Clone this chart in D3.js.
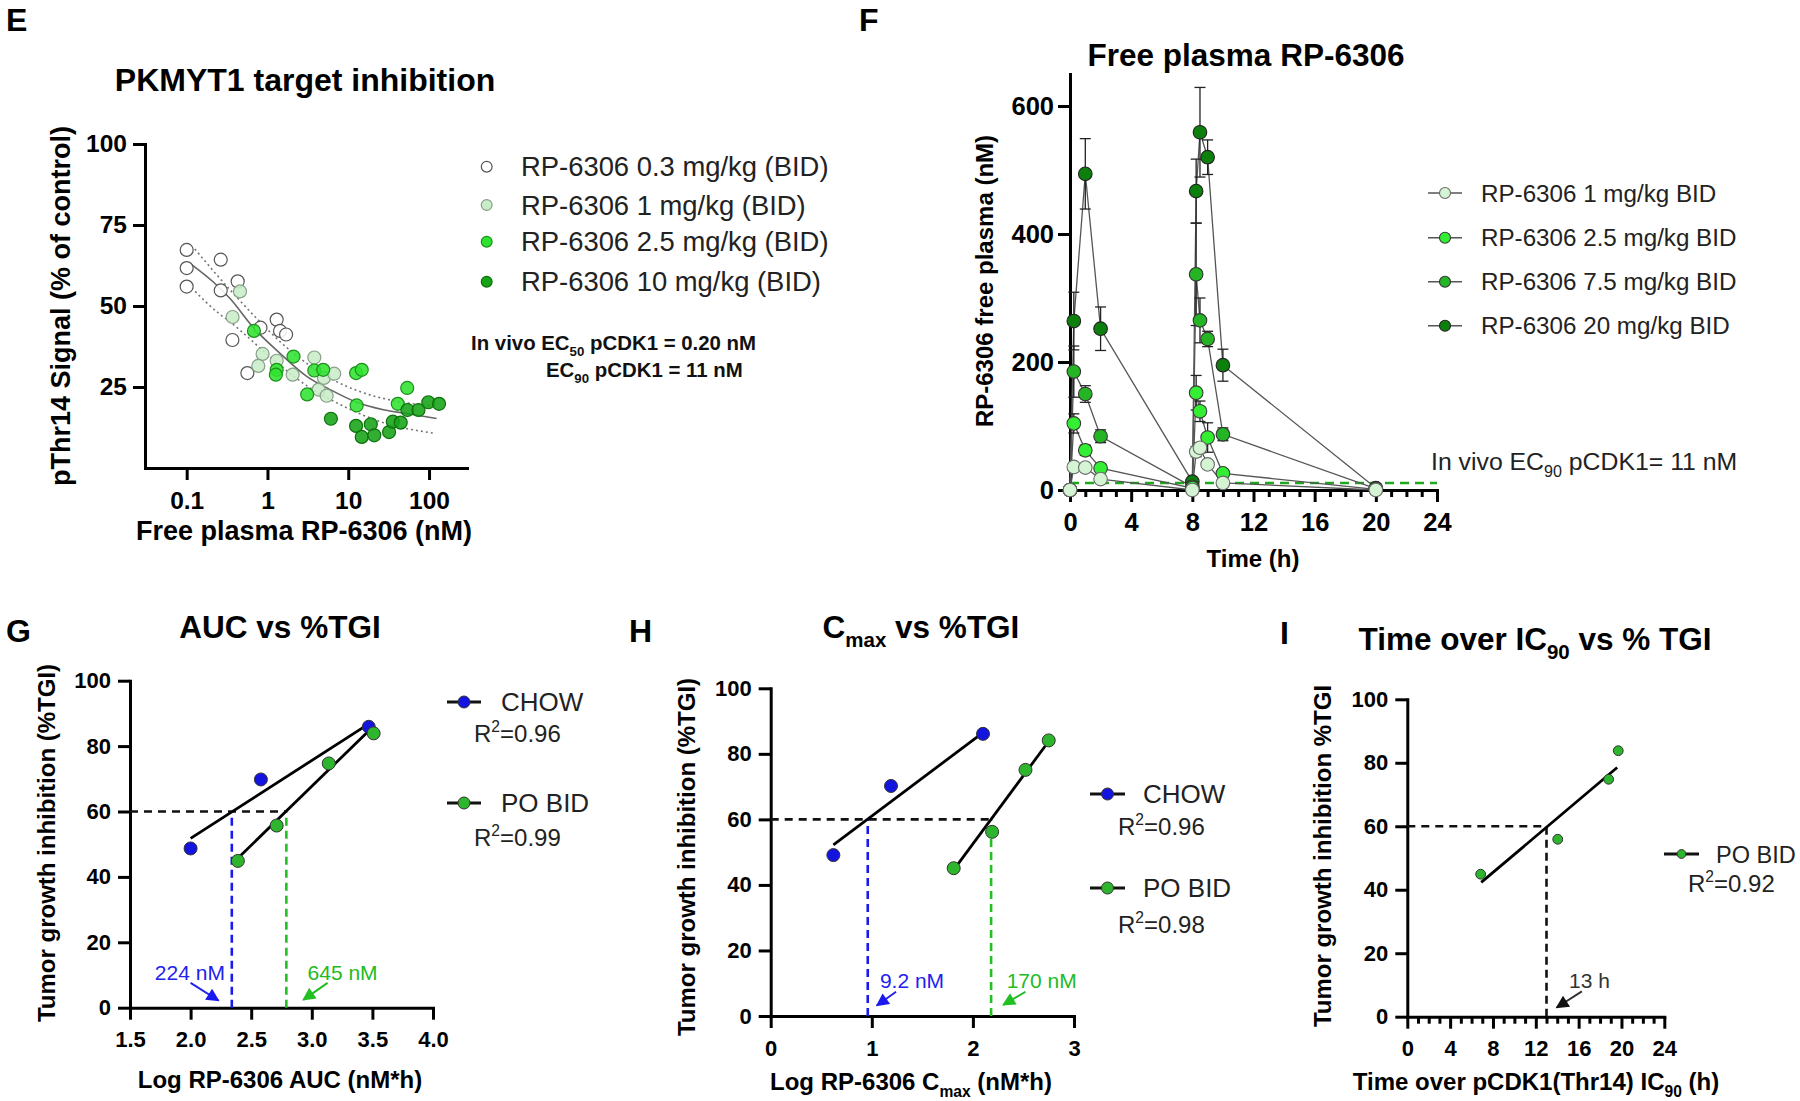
<!DOCTYPE html>
<html><head><meta charset="utf-8">
<script src="https://cdn.jsdelivr.net/npm/d3@7"></script>
<style>body{margin:0;background:#fff}svg{display:block}</style>
</head><body>
<svg id="c" width="1800" height="1101"></svg>
<script>
// ================= DATA =================
// Panel E – PKMYT1 target inhibition (free plasma nM vs pThr14 %)
const eNames = ["RP-6306 0.3 mg/kg (BID)","RP-6306 1 mg/kg (BID)","RP-6306 2.5 mg/kg (BID)","RP-6306 10 mg/kg (BID)"];
const eDose03X = [0.1,0.1,0.1,0.264,0.264,0.428,0.368,0.564,0.82,1.30,1.43,1.70];
const eDose03Y = [67.3,61.7,56,64.3,54.8,57.6,39.5,29.3,43.3,45.8,42.3,41.2];
const eDose1X  = [0.457,0.37,0.87,0.77,1.30,2.05,3.8,4.3,5.4,5.0,6.7];
const eDose1Y  = [54.5,46.6,35.2,31.5,33.1,28.8,34.1,24.2,22.3,27.8,29.1];
const eDose25X = [0.68,1.30,1.27,2.1,3.1,3.8,4.9,12.5,14.7,12.7,41,53.7];
const eDose25Y = [42.3,30.3,28.8,34.4,22.7,30.1,30.3,29.3,30.3,19.3,19.8,24.7];
const eDose10X = [6.1,12.5,14.7,19,21,32,35.6,44.6,54,74,98,133];
const eDose10Y = [15.2,13,9.6,13.5,10.1,11.1,14.3,14,17.9,17.9,20.3,19.8];
const eFitX   = [0.115,0.214,0.344,0.683,1.43,3.06,5.96,12.7,27.2,53,124];
const eFitY   = [62.8,57.4,52.3,43.1,35.4,28.3,24.2,20.3,18.0,16.8,15.3];
const eUpperX = [0.126,0.25,0.74,1.43,3.06,6.5,15.4,40,121];
const eUpperY = [67.6,58.9,46.1,39,32.3,27.2,23.2,20.6,19.1];
const eLowerX = [0.115,0.25,0.344,1.07,3.06,8.7,27.2,119];
const eLowerY = [55.6,47.7,45.1,34.4,25.4,19.1,14,10.7];
const eXTicks = [0.1,1,10,100];
const eYTicks = [25,50,75,100];

// Panel F – free plasma PK
const fNames = ["RP-6306 1 mg/kg BID","RP-6306 2.5 mg/kg BID","RP-6306 7.5 mg/kg BID","RP-6306 20 mg/kg BID"];
const fTime   = [0,0.25,1,2,8,8.25,8.5,9,10,20];
const fDose1   = [0,36,35,17,0,60,66,40,11,0];
const fDose1E  = [0,3,3,2,0,8,8,6,2,0];
const fDose25  = [0,104,62,34,3,152,123,82,26,1];
const fDose25E = [0,15,8,5,1,27,16,23,5,0];
const fDose75  = [0,185,150,84,5,337,265,236,87,2];
const fDose75E = [0,40,13,10,1,80,35,12,10,0];
const fDose20  = [0,264,494,252,13,467,559,520,195,3];
const fDose20E = [0,45,55,34,3,50,70,27,25,1];
const fEC90 = 11;
const fXTicks = [0,4,8,12,16,20,24];
const fYTicks = [0,200,400,600];

// Panel G – AUC vs %TGI
const gChowX = [2.0,2.58,3.47], gChowY = [48.7,69.8,85.9];
const gPoX = [2.39,2.71,3.14,3.51], gPoY = [44.9,55.7,74.7,83.9];
const gChowFitX = [2.0,3.47], gChowFitY = [51.8,86.8];
const gPoFitX = [2.39,3.49], gPoFitY = [45.7,85.4];
const gCuts = [2.34,2.79];
const gXTicks = [1.5,2.0,2.5,3.0,3.5,4.0];
const gR2 = ["0.96","0.99"];
const gLabels = ["224 nM","645 nM"];

// Panel H – Cmax vs %TGI
const hChowX = [0.62,1.19,2.10], hChowY = [49.1,70.2,86.1];
const hPoX = [1.81,2.19,2.52,2.75], hPoY = [45.1,56.2,75.1,84.1];
const hChowFitX = [0.62,2.07], hChowFitY = [52.2,85.8];
const hPoFitX = [1.81,2.73], hPoFitY = [44.6,83.0];
const hCuts = [0.96,2.18];
const hXTicks = [0,1,2,3];
const hR2 = ["0.96","0.98"];
const hLabels = ["9.2 nM","170  nM"];

// Panel I – time over IC90 vs %TGI
const iPoX = [6.85,14.05,18.8,19.7], iPoY = [44.9,55.9,74.8,83.8];
const iPoFitX = [6.9,19.6], iPoFitY = [42.3,78.5];
const iCut = 13;
const iXTicks = [0,4,8,12,16,20,24];
const iR2 = "0.92";

const tgiYTicks = [0,20,40,60,80,100];
const tgiTarget = 60;

// ================= DRAWING =================
const FONT = '"Liberation Sans", Arial, Helvetica, sans-serif';
const TITLE = 31.5;
const svg = d3.select("#c");
const defs = svg.append("defs");
function arrowMarker(id, color){
  defs.append("marker").attr("id",id).attr("viewBox","0 0 10 10")
    .attr("refX",9).attr("refY",5).attr("markerWidth",15).attr("markerHeight",13)
    .attr("markerUnits","userSpaceOnUse").attr("orient","auto")
    .append("path").attr("d","M0,0L10,5L0,10z").attr("fill",color);
}
arrowMarker("arB","#1a1aee"); arrowMarker("arG","#22c022"); arrowMarker("arK","#111");

function rich(parent, x, y, parts, o){
  const fs = o.size;
  const t = parent.append("text").attr("x",x).attr("y",y).attr("font-size",fs)
    .attr("font-family",FONT).attr("font-weight",o.bold?"bold":"normal")
    .attr("fill",o.fill||"#000").attr("text-anchor",o.anchor||"start");
  if (o.rotate) t.attr("transform",`rotate(${o.rotate},${x},${y})`);
  let shift = 0;
  parts.forEach(p=>{
    if (typeof p === "string") p = {t:p};
    const target = p.sub ? fs*0.28 : (p.sup ? -fs*0.42 : 0);
    const ts = t.append("tspan").text(p.t).attr("dy", target - shift);
    if (p.sub || p.sup) ts.attr("font-size", fs*0.65);
    shift = target;
  });
  return t;
}
function styleAxis(g, fs){
  g.select(".domain").attr("stroke","#000").attr("stroke-width",3).attr("stroke-linecap","square");
  g.selectAll(".tick line").attr("stroke","#000").attr("stroke-width",3);
  g.selectAll(".tick text").attr("font-family",FONT).attr("font-weight","bold")
    .attr("font-size",fs).attr("fill","#000");
}
const zip = (xs, ys) => xs.map((x,i)=>[x, ys[i]]);

// ---------- Panel E ----------
{
  const g = svg.append("g");
  const x = d3.scaleLog().domain([Math.pow(10,-1.516), Math.pow(10,2.47)]).range([145,467]);
  const y = d3.scaleLinear().domain([0,100]).range([468,144]);
  const ax = g.append("g").attr("transform","translate(0,468)")
    .call(d3.axisBottom(x).tickValues(eXTicks).tickFormat(d=>String(d)).tickSize(12).tickPadding(12).tickSizeOuter(0));
  styleAxis(ax, 24.5);
  const ay = g.append("g").attr("transform","translate(145,0)")
    .call(d3.axisLeft(y).tickValues(eYTicks).tickSize(12).tickPadding(6).tickSizeOuter(0));
  styleAxis(ay, 24.5);
  // fit + CI
  const ln = d3.line().x(d=>x(d[0])).y(d=>y(d[1])).curve(d3.curveMonotoneX);
  g.append("path").attr("d",ln(zip(eUpperX,eUpperY))).attr("fill","none").attr("stroke","#777").attr("stroke-width",1.6).attr("stroke-dasharray","2,3");
  g.append("path").attr("d",ln(zip(eLowerX,eLowerY))).attr("fill","none").attr("stroke","#777").attr("stroke-width",1.6).attr("stroke-dasharray","2,3");
  g.append("path").attr("d",ln(zip(eFitX,eFitY))).attr("fill","none").attr("stroke","#666").attr("stroke-width",1.6);
  const eFill = ["#ffffff","#c8edc8","#2fe22f","#16a316"];
  const eStroke = ["#555","#889f88","#1c8f1c","#0b6f0b"];
  const sets = [zip(eDose03X,eDose03Y), zip(eDose1X,eDose1Y), zip(eDose25X,eDose25Y), zip(eDose10X,eDose10Y)];
  sets.forEach((s,k)=>{
    g.append("g").selectAll("circle").data(s).join("circle")
      .attr("cx",d=>x(d[0])).attr("cy",d=>y(d[1])).attr("r",6.5)
      .attr("fill",eFill[k]).attr("fill-opacity",0.88).attr("stroke",eStroke[k]).attr("stroke-width",1.2);
  });
  // legend
  const rows = [166.7,205,241.7,281.7];
  eNames.forEach((n,k)=>{
    g.append("circle").attr("cx",486.7).attr("cy",rows[k]).attr("r",5.4)
      .attr("fill",eFill[k]).attr("stroke",eStroke[k]).attr("stroke-width",1.2);
    g.append("text").attr("x",521).attr("y",rows[k]+9.5).text(n).attr("font-family",FONT)
      .attr("font-size",27.4).attr("fill","#222");
  });
  rich(g, 471, 350, ["In vivo EC",{t:"50",sub:true}," pCDK1 = 0.20 nM"], {size:20.4,bold:true,fill:"#111"});
  rich(g, 546, 377, ["EC",{t:"90",sub:true}," pCDK1 = 11 nM"], {size:20.4,bold:true,fill:"#111"});
  // titles
  g.append("text").attr("x",6).attr("y",31).text("E").attr("font-family",FONT).attr("font-weight","bold").attr("font-size",32);
  g.append("text").attr("x",305).attr("y",91).text("PKMYT1 target inhibition").attr("font-family",FONT)
    .attr("font-weight","bold").attr("font-size",32).attr("text-anchor","middle");
  rich(g, 69.5, 306, ["pThr14 Signal (% of control)"], {size:27,bold:true,anchor:"middle",rotate:-90});
  rich(g, 304, 540, ["Free plasma RP-6306 (nM)"], {size:27,bold:true,anchor:"middle"});
}

// ---------- Panel F ----------
{
  const g = svg.append("g");
  const x = d3.scaleLinear().domain([0,24]).range([1070,1437]);
  const y = d3.scaleLinear().domain([0,650]).range([490,74]);
  const minor = d3.range(0,25).filter(v=>v%4!==0);
  const axm = g.append("g").attr("transform","translate(0,490)")
    .call(d3.axisBottom(x).tickValues(minor).tickFormat("").tickSize(7).tickSizeOuter(0));
  styleAxis(axm, 10); axm.select(".domain").remove();
  const ax = g.append("g").attr("transform","translate(0,490)")
    .call(d3.axisBottom(x).tickValues(fXTicks).tickSize(12).tickPadding(11).tickSizeOuter(0));
  styleAxis(ax, 25.5);
  const ay = g.append("g").attr("transform","translate(1070,0)")
    .call(d3.axisLeft(y).tickValues(fYTicks).tickSize(12).tickPadding(4).tickSizeOuter(0));
  styleAxis(ay, 25.5);
  // EC90 line
  g.append("line").attr("x1",x(0)).attr("x2",x(24)).attr("y1",y(fEC90)).attr("y2",y(fEC90))
    .attr("stroke","#1fa81f").attr("stroke-width",2.6).attr("stroke-dasharray","9,6");
  const series = [[fDose1,fDose1E],[fDose25,fDose25E],[fDose75,fDose75E],[fDose20,fDose20E]];
  const fFill = ["#d4f4d4","#33ee33","#24b424","#0d7f0d"];
  const fStroke = ["#6a6a6a","#3a3a3a","#333","#222"];
  const ln = d3.line().x(d=>x(d[0])).y(d=>y(d[1]));
  series.forEach(([v])=>{
    g.append("path").attr("d",ln(zip(fTime,v))).attr("fill","none").attr("stroke","#555").attr("stroke-width",1.3);
  });
  series.forEach(([v,e])=>{
    fTime.forEach((t,i)=>{
      if (!e[i]) return;
      const cx = x(t), y1 = y(v[i]+e[i]), y0 = y(Math.max(0,v[i]-e[i]));
      g.append("line").attr("x1",cx).attr("x2",cx).attr("y1",y0).attr("y2",y1).attr("stroke","#222").attr("stroke-width",1.3);
      [y0,y1].forEach(yy=>g.append("line").attr("x1",cx-5.5).attr("x2",cx+5.5).attr("y1",yy).attr("y2",yy).attr("stroke","#222").attr("stroke-width",1.3));
    });
  });
  [3,2,1,0].forEach(k=>{
    g.append("g").selectAll("circle").data(zip(fTime,series[k][0])).join("circle")
      .attr("cx",d=>x(d[0])).attr("cy",d=>y(d[1])).attr("r",6.8)
      .attr("fill",fFill[k]).attr("stroke",fStroke[k]).attr("stroke-width",1.1);
  });
  // legend
  const rows = [193,237.7,281.7,325.7];
  fNames.forEach((n,k)=>{
    g.append("line").attr("x1",1428).attr("x2",1462).attr("y1",rows[k]).attr("y2",rows[k]).attr("stroke","#555").attr("stroke-width",1.5);
    g.append("circle").attr("cx",1445).attr("cy",rows[k]).attr("r",5.5).attr("fill",fFill[k]).attr("stroke",fStroke[k]).attr("stroke-width",1.1);
    g.append("text").attr("x",1481).attr("y",rows[k]+8.5).text(n).attr("font-family",FONT).attr("font-size",24.2).attr("fill","#222");
  });
  rich(g, 1431, 470, ["In vivo EC",{t:"90",sub:true}," pCDK1= 11 nM"], {size:24.8,fill:"#222"});
  g.append("text").attr("x",859).attr("y",31).text("F").attr("font-family",FONT).attr("font-weight","bold").attr("font-size",32);
  g.append("text").attr("x",1246).attr("y",66).text("Free plasma RP-6306").attr("font-family",FONT)
    .attr("font-weight","bold").attr("font-size",TITLE).attr("text-anchor","middle");
  rich(g, 993, 281, ["RP-6306 free plasma (nM)"], {size:24,bold:true,anchor:"middle",rotate:-90});
  rich(g, 1253, 567, ["Time (h)"], {size:24,bold:true,anchor:"middle"});
}

// ---------- TGI panels helper ----------
const blue = "#1414e0", green = "#2db52d";
function tgiPanel(cfg){
  const g = svg.append("g");
  const x = d3.scaleLinear().domain(cfg.xDomain).range(cfg.xRange);
  const y = d3.scaleLinear().domain([0,100]).range(cfg.yRange);
  const y0 = cfg.yRange[0];
  if (cfg.minor){
    const axm = g.append("g").attr("transform",`translate(0,${y0})`)
      .call(d3.axisBottom(x).tickValues(cfg.minor).tickFormat("").tickSize(7).tickSizeOuter(0));
    styleAxis(axm,10); axm.select(".domain").remove();
  }
  const ax = g.append("g").attr("transform",`translate(0,${y0})`)
    .call(d3.axisBottom(x).tickValues(cfg.xTicks).tickFormat(cfg.xFmt).tickSize(12).tickPadding(12).tickSizeOuter(0));
  styleAxis(ax, 22);
  const ay = g.append("g").attr("transform",`translate(${cfg.xRange[0]},0)`)
    .call(d3.axisLeft(y).tickValues(tgiYTicks).tickSize(12).tickPadding(7).tickSizeOuter(0));
  styleAxis(ay, 22);
  // reference dashed lines
  const maxCut = d3.max(cfg.cuts.map(c=>c.x));
  g.append("line").attr("x1",x(cfg.xDomain[0])).attr("x2",x(maxCut)).attr("y1",y(tgiTarget)).attr("y2",y(tgiTarget))
    .attr("stroke","#111").attr("stroke-width",2.6).attr("stroke-dasharray","8,6");
  cfg.cuts.forEach(c=>{
    g.append("line").attr("x1",x(c.x)).attr("x2",x(c.x)).attr("y1",y(0)).attr("y2",y(tgiTarget))
      .attr("stroke",c.color).attr("stroke-width",2.6).attr("stroke-dasharray","8,5");
  });
  // fits
  const ln = d3.line().x(d=>x(d[0])).y(d=>y(d[1]));
  cfg.sets.forEach(s=>{
    g.append("path").attr("d",ln(zip(s.fitX,s.fitY))).attr("stroke","#000").attr("stroke-width",2.8).attr("fill","none");
  });
  cfg.sets.forEach(s=>{
    g.append("g").selectAll("circle").data(zip(s.x,s.y)).join("circle")
      .attr("cx",d=>x(d[0])).attr("cy",d=>y(d[1])).attr("r",cfg.r)
      .attr("fill",s.color).attr("stroke","#333").attr("stroke-width",1);
  });
  // annotations
  cfg.notes.forEach(n=>{
    g.append("text").attr("x",x(n.tx)).attr("y",y(n.ty)).text(n.t).attr("font-family",FONT)
      .attr("font-size",21).attr("fill",n.color);
    g.append("line").attr("x1",x(n.a[0])).attr("y1",y(n.a[1])).attr("x2",x(n.a[2])).attr("y2",y(n.a[3]))
      .attr("stroke",n.color).attr("stroke-width",2).attr("marker-end",`url(#${n.marker})`);
  });
  // legend
  cfg.legend.forEach(l=>{
    g.append("line").attr("x1",l.lx[0]).attr("x2",l.lx[1]).attr("y1",l.y).attr("y2",l.y).attr("stroke","#111").attr("stroke-width",3);
    g.append("circle").attr("cx",(l.lx[0]+l.lx[1])/2).attr("cy",l.y).attr("r",cfg.r-0.5).attr("fill",l.color).attr("stroke","#333");
    g.append("text").attr("x",l.tx).attr("y",l.y+9).text(l.name).attr("font-family",FONT).attr("font-size",cfg.legSize||26).attr("fill","#222");
    rich(g, l.rx, l.ry, ["R",{t:"2",sup:true},"="+l.r2], {size:24,fill:"#222"});
  });
  g.append("text").attr("x",cfg.letter[1]).attr("y",cfg.letter[2]).text(cfg.letter[0]).attr("font-family",FONT).attr("font-weight","bold").attr("font-size",32);
  rich(g, cfg.title.x, cfg.title.y, cfg.title.parts, {size:TITLE,bold:true,anchor:"middle"});
  rich(g, cfg.ylab.x, cfg.ylab.y, cfg.ylab.parts, {size:24,bold:true,anchor:"middle",rotate:-90});
  rich(g, cfg.xlab.x, cfg.xlab.y, cfg.xlab.parts, {size:24,bold:true,anchor:"middle"});
}

tgiPanel({
  xDomain:[1.5,4], xRange:[130,433], yRange:[1007.7,680.7], xTicks:gXTicks, xFmt:d3.format(".1f"), r:6.5,
  cuts:[{x:gCuts[0],color:"#1a1aee"},{x:gCuts[1],color:"#22c022"}],
  sets:[{x:gChowX,y:gChowY,fitX:gChowFitX,fitY:gChowFitY,color:blue},{x:gPoX,y:gPoY,fitX:gPoFitX,fitY:gPoFitY,color:green}],
  notes:[{t:gLabels[0],tx:1.705,ty:8.5,color:"#2222ee",marker:"arB",a:[2.0,7.6,2.23,2.2]},
         {t:gLabels[1],tx:2.965,ty:8.5,color:"#22bb22",marker:"arG",a:[3.13,7.6,2.93,2.4]}],
  legend:[{lx:[447,481],y:702,tx:501,name:"CHOW",rx:474,ry:742,r2:gR2[0],color:blue},
          {lx:[447,481],y:803,tx:501,name:"PO BID",rx:474,ry:846,r2:gR2[1],color:green}],
  letter:["G",6,642], title:{x:280,y:638,parts:["AUC vs %TGI"]},
  ylab:{x:55,y:843,parts:["Tumor growth inhibition (%TGI)"]},
  xlab:{x:280,y:1088,parts:["Log RP-6306 AUC (nM*h)"]}
});

tgiPanel({
  xDomain:[0,3], xRange:[770.7,1074], yRange:[1016,688.3], xTicks:hXTicks, xFmt:d3.format("d"), r:6.5,
  cuts:[{x:hCuts[0],color:"#1a1aee"},{x:hCuts[1],color:"#22c022"}],
  sets:[{x:hChowX,y:hChowY,fitX:hChowFitX,fitY:hChowFitY,color:blue},{x:hPoX,y:hPoY,fitX:hPoFitX,fitY:hPoFitY,color:green}],
  notes:[{t:hLabels[0],tx:1.08,ty:8.45,color:"#2222ee",marker:"arB",a:[1.24,7.4,1.05,3.2]},
         {t:hLabels[1],tx:2.334,ty:8.45,color:"#22bb22",marker:"arG",a:[2.52,7.4,2.30,3.4]}],
  legend:[{lx:[1090,1125],y:794,tx:1143,name:"CHOW",rx:1118,ry:835,r2:hR2[0],color:blue},
          {lx:[1090,1125],y:888,tx:1143,name:"PO BID",rx:1118,ry:933,r2:hR2[1],color:green}],
  letter:["H",629,642], title:{x:921,y:638,parts:["C",{t:"max",sub:true}," vs %TGI"]},
  ylab:{x:695,y:857,parts:["Tumor growth inhibition (%TGI)"]},
  xlab:{x:911,y:1090,parts:["Log RP-6306 C",{t:"max",sub:true}," (nM*h)"]}
});

tgiPanel({
  xDomain:[0,24], xRange:[1407.3,1664.3], yRange:[1016.7,699.3], xTicks:iXTicks, xFmt:d3.format("d"), r:4.9,
  minor:d3.range(0,25).filter(v=>v%4!==0), legSize:23.5,
  cuts:[{x:iCut,color:"#111"}],
  sets:[{x:iPoX,y:iPoY,fitX:iPoFitX,fitY:iPoFitY,color:green}],
  notes:[{t:"13 h",tx:15.1,ty:9.0,color:"#333",marker:"arK",a:[16.3,8.0,13.95,2.9]}],
  legend:[{lx:[1664,1699],y:854,tx:1716,name:"PO BID",rx:1688,ry:892,r2:iR2,color:green}],
  letter:["I",1280,644], title:{x:1535,y:650,parts:["Time over IC",{t:"90",sub:true}," vs % TGI"]},
  ylab:{x:1331,y:856,parts:["Tumor growth inhibition %TGI"]},
  xlab:{x:1536,y:1090,parts:["Time over pCDK1(Thr14) IC",{t:"90",sub:true}," (h)"]}
});
</script>
</body></html>
